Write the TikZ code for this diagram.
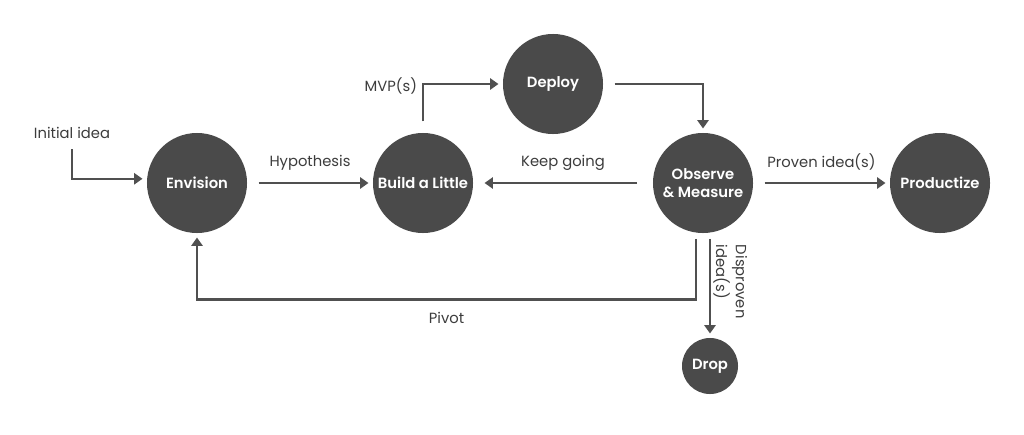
\documentclass[tikz,border=0pt]{standalone}
\usepackage{fontspec}
\setmainfont{Poppins}[BoldFont={Poppins SemiBold}]
\usetikzlibrary{arrows.meta}

\definecolor{bubblegray}{HTML}{4A4A4A}
\definecolor{linegray}{HTML}{505050}
\definecolor{textgray}{HTML}{3C3C3C}

\tikzset{
  bubble/.style={circle, fill=bubblegray, text=white, minimum size=2.5cm, inner sep=0pt, align=center, font=\fontsize{10.5}{13}\selectfont\bfseries},
  flow/.style={draw=linegray, line width=1.8pt, -{Triangle[width=8pt,length=6pt]}, shorten <=8pt, shorten >=3pt},
  tag/.style={text=textgray, font=\fontsize{10.5}{14}\selectfont}
}

\begin{document}
\begin{tikzpicture}[x=0.025cm, y=-0.025cm]
\useasboundingbox (0,0) rectangle (1024,434);

% circles
\node[bubble] (env) at (197,183) {Envision};
\node[bubble] (build) at (423,183) {Build a Little};
\node[bubble] (deploy) at (553,84) {Deploy};
\node[bubble] (observe) at (703,183) {Observe\\\& Measure};
\node[bubble] (product) at (940,183) {Productize};
\node[bubble, minimum size=1.4cm] (drop) at (710,366) {Drop};

\node[tag] (init) at (72,133) {Initial idea};

% arrows
\draw[flow, shorten <=4pt] (init) |- ([yshift=3pt]env.west);
\draw[flow] (env) -- (build) node[tag, midway, above=5pt] {Hypothesis};
\draw[flow] (build) |- (deploy) node[tag, pos=0.5, anchor=east, yshift=-1.5pt] {MVP(s)};
\draw[flow] (deploy) -| (observe);
\draw[flow, shorten >=8pt, shorten <=11pt] (observe) -- (build) node[tag, midway, above=5pt] {Keep going};
\draw[flow] (observe) -- (product) node[tag, midway, above=5pt] {Proven idea(s)};
\draw[flow, shorten <=4pt] ([xshift=-5pt]observe.south) -- ++(0,66) -| (env.south) node[tag, pos=0.25, below=5pt] {Pivot};
\draw[flow, shorten <=4pt] (drop.north |- observe.south) -- (drop.north);
\node[tag, rotate=-90, align=left, anchor=north west] (disp) at (752,240) {Disproven\\idea(s)};

\end{tikzpicture}
\end{document}
